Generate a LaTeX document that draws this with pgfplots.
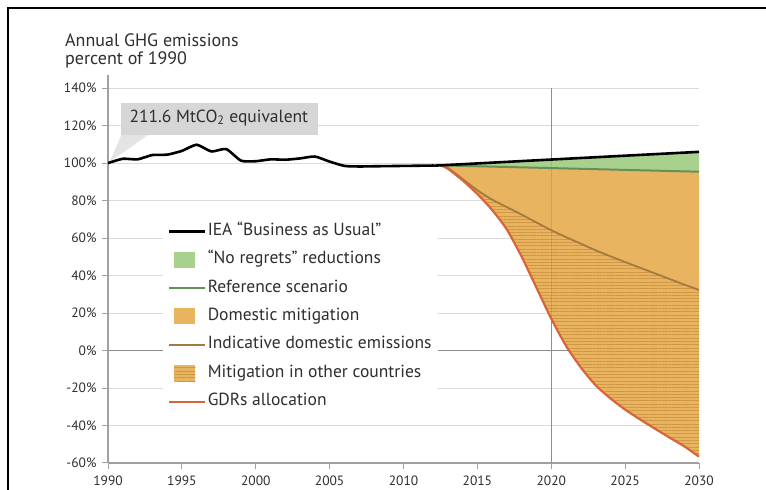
\documentclass[border=0pt]{standalone}
\usepackage{fontspec}
\setmainfont{PT Sans}
\usepackage{pgfplots}
\usepackage{pgfplotstable}
\pgfplotsset{compat=1.18}
\usepgfplotslibrary{fillbetween}
\usetikzlibrary{patterns.meta}
\pgfplotsset{/tikz/fill between/on layer=main}

\definecolor{nrgreen}{HTML}{A9D18E}
\definecolor{refgreen}{HTML}{64915A}
\definecolor{mitorange}{HTML}{E8B45F}
\definecolor{hatch}{HTML}{D19644}
\definecolor{indbrown}{HTML}{A27B3E}
\definecolor{gdrred}{HTML}{D8643C}
\definecolor{gridgray}{HTML}{DADADA}
\definecolor{axisgray}{HTML}{A0A0A0}
\definecolor{zerogray}{HTML}{8C8C8C}
\definecolor{txt}{HTML}{2E2E2E}
\definecolor{annobox}{HTML}{D6D6D6}
\definecolor{annotip}{HTML}{E4E4E4}

% IEA business as usual: history and projection
\pgfplotstableread{
year val
1990 100
1991 102.3
1992 102
1993 104.3
1994 104.5
1995 106.5
1996 109.8
1997 106.2
1998 107.5
1999 101.3
2000 101
2001 102
2002 101.8
2003 102.5
2004 103.5
2005 100.8
2006 98.5
2007 98.2
2008 98.3
2009 98.4
2010 98.5
2011 98.6
2012 98.7
2012.5 98.8
2020 101.9
2030 106
}\tblbau

\pgfplotstableread{
year val
2012.5 98.8
2030 95.4
}\tblref

\pgfplotstableread{
year val
2012.5 98.8
2013 97.5
2014 91.5
2015 85.5
2016 80.5
2017 76.5
2018 72.5
2019 68.3
2020 64.2
2021 60.5
2022 57
2023 53.5
2024 50.3
2025 47.2
2026 44.2
2027 41.2
2028 38.2
2029 35.2
2030 32.3
}\tblind

\pgfplotstableread{
year val
2012.5 98.8
2013 97
2014 90.8
2015 83.5
2016 75
2017 64.5
2018 50
2019 33.5
2020 17
2021 2.5
2022 -9
2023 -18.5
2024 -25.5
2025 -31.5
2026 -36.7
2027 -41.6
2028 -46.4
2029 -51.1
2030 -56.6
}\tblgdr

\begin{document}
\begin{tikzpicture}
\begin{axis}[
    at={(0pt,0pt)}, anchor=south west,
    scale only axis, width=591pt, height=388pt,
    xmin=1990, xmax=2030, ymin=-60, ymax=147,
    xtick={1990,1995,...,2030},
    ytick={-60,-40,...,140},
    axis x line*=bottom, axis y line*=left,
    axis line style={axisgray, line width=1.3pt, -},
    tick style={axisgray, line width=1pt},
    tick align=outside, major tick length=6pt,
    ymajorgrids=true,
    grid style={gridgray, line width=0.8pt},
    /pgf/number format/assume math mode=true,
    /pgf/number format/1000 sep={},
    yticklabel={\pgfmathprintnumber{\tick}\%},
    ticklabel style={font=\fontsize{13.5}{15}\selectfont, text=txt},
    yticklabel style={xshift=-2pt},
    xticklabel style={yshift=-3pt},
    legend cell align=left,
    legend style={at={(0.093,0.6314)}, anchor=north west,
        draw=none, fill=white, inner xsep=5pt, inner ysep=4pt,
        font=\fontsize{17.5}{20}\selectfont, text=txt,
        row sep=10.4pt,
        nodes={inner sep=1pt, text height=12pt, text depth=4pt}},
]
% reference lines behind the areas
\draw[zerogray, line width=1.2pt] (axis cs:1990,0) -- (axis cs:2030,0);
\draw[axisgray, line width=0.9pt] (axis cs:2020,-60) -- (axis cs:2020,140);

% annotation box
\fill[annotip] (axis cs:1990.9,114.9) -- (axis cs:1992.7,114.9) -- (axis cs:1990.1,100.5) -- cycle;
\fill[annobox] (axis cs:1990.86,114.9) rectangle (axis cs:2004.2,131.8);
\node[anchor=base west, inner sep=0pt, font=\fontsize{17.5}{20}\selectfont, text=txt]
    at (axis cs:1991.45,121.9) {211.6 MtCO\textsubscript{2} equivalent};

% named paths
\addplot[name path=bau, draw=none, forget plot, smooth, tension=0.35] table[x=year,y=val] {\tblbau};
\addplot[name path=ref, draw=none, forget plot] table[x=year,y=val] {\tblref};
\addplot[name path=ind, draw=none, forget plot, smooth, tension=0.4] table[x=year,y=val] {\tblind};
\addplot[name path=gdr, draw=none, forget plot, smooth, tension=0.4] table[x=year,y=val] {\tblgdr};

% areas
\addplot[mitorange, forget plot] fill between[of=ref and gdr];
\addplot[pattern={Lines[angle=0,distance=3.3pt,line width=0.9pt]}, pattern color=hatch, forget plot]
    fill between[of=ind and gdr];
\addplot[nrgreen, forget plot] fill between[of=bau and ref,
    soft clip={(axis cs:2012.5,-60) rectangle (axis cs:2030,147)}];

% faint 2020 line over the areas
\draw[black, opacity=0.1, line width=0.9pt] (axis cs:2020,-60) -- (axis cs:2020,140);

% lines
\addplot[refgreen, line width=2pt, forget plot] table[x=year,y=val] {\tblref};
\addplot[indbrown, line width=1.8pt, forget plot, smooth, tension=0.4] table[x=year,y=val] {\tblind};
\addplot[gdrred, line width=2.2pt, forget plot, smooth, tension=0.4] table[x=year,y=val] {\tblgdr};
\addplot[black, line width=2.6pt, forget plot, smooth, tension=0.35, line join=round] table[x=year,y=val] {\tblbau};

% legend
\addlegendimage{legend image code/.code={\draw[black, line width=2.6pt] (0pt,0pt) -- (36pt,0pt);}}
\addlegendentry{IEA “Business as Usual”}
\addlegendimage{legend image code/.code={\fill[nrgreen, draw=none] (5pt,-8pt) rectangle (26pt,8pt); \path[draw=none] (0pt,0pt) -- (36pt,0pt);}}
\addlegendentry{“No regrets” reductions}
\addlegendimage{legend image code/.code={\draw[refgreen, line width=2pt] (0pt,0pt) -- (36pt,0pt);}}
\addlegendentry{Reference scenario}
\addlegendimage{legend image code/.code={\fill[mitorange, draw=none] (5pt,-8pt) rectangle (26pt,8pt); \path[draw=none] (0pt,0pt) -- (36pt,0pt);}}
\addlegendentry{Domestic mitigation}
\addlegendimage{legend image code/.code={\draw[indbrown, line width=1.8pt] (0pt,0pt) -- (36pt,0pt);}}
\addlegendentry{Indicative domestic emissions}
\addlegendimage{legend image code/.code={\fill[mitorange, draw=none] (5pt,-8pt) rectangle (26pt,8pt);
    \fill[draw=none, pattern={Lines[angle=0,distance=3.3pt,line width=0.9pt]}, pattern color=hatch] (5pt,-8pt) rectangle (26pt,8pt);
    \path[draw=none] (0pt,0pt) -- (36pt,0pt);}}
\addlegendentry{Mitigation in other countries}
\addlegendimage{legend image code/.code={\draw[gdrred, line width=2pt] (0pt,0pt) -- (36pt,0pt);}}
\addlegendentry{GDRs allocation}
\end{axis}

% title
\node[anchor=base west, inner sep=0pt, font=\fontsize{18}{20}\selectfont, text=txt] at (-43pt,416pt) {Annual GHG emissions};
\node[anchor=base west, inner sep=0pt, font=\fontsize{18}{20}\selectfont, text=txt] at (-43pt,398pt) {percent of 1990};

% frame
\draw[black, line width=2.5pt] (-100pt,-40pt) -- (-100pt,455pt) -- (680pt,455pt);

\pgfresetboundingbox
\useasboundingbox (-108pt,-27pt) rectangle (658pt,463pt);
\end{tikzpicture}
\end{document}
